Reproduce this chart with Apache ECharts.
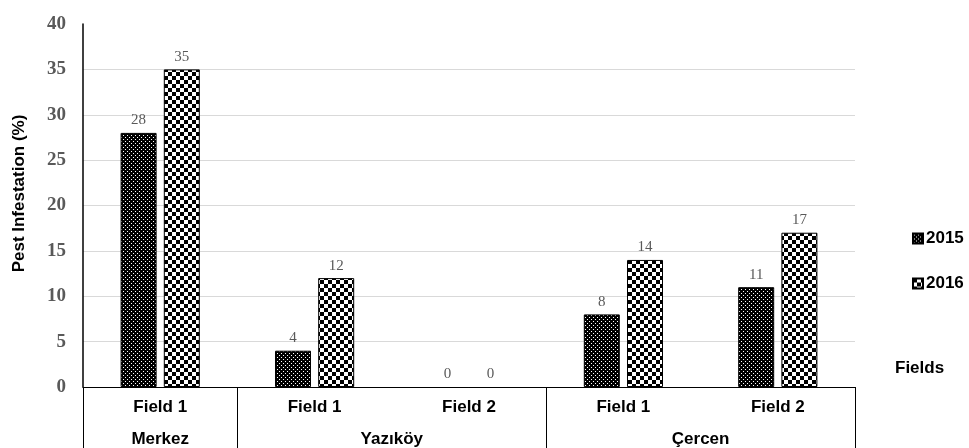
<!DOCTYPE html>
<html><head><meta charset="utf-8">
<script src="https://cdn.jsdelivr.net/npm/echarts@6/dist/echarts.min.js"></script>
<style>html,body{margin:0;padding:0;background:#fff}#c{width:969px;height:448px}</style>
</head><body><div id="c"></div>
<script>
var fields = ['Field 1', 'Field 1', 'Field 2', 'Field 1', 'Field 2'];
var locations = ['Merkez', 'Yazıköy', 'Çercen'];
var locationCenters = [0.5, 2, 4];
var locationBounds = [0, 1, 3, 5];
var values2015 = [28, 4, 0, 8, 11];
var values2016 = [35, 12, 0, 14, 17];
var yTicks = [0, 5, 10, 15, 20, 25, 30, 35, 40];

function dotPattern() {
  var c = document.createElement('canvas'); c.width = 4; c.height = 4;
  var g = c.getContext('2d');
  g.fillStyle = '#000'; g.fillRect(0, 0, 4, 4);
  g.fillStyle = '#fff'; g.fillRect(1, 1, 1, 1); g.fillRect(3, 3, 1, 1);
  return c;
}
function checkPattern() {
  var c = document.createElement('canvas'); c.width = 8; c.height = 8;
  var g = c.getContext('2d');
  g.fillStyle = '#fff'; g.fillRect(0, 0, 8, 8);
  g.fillStyle = '#000'; g.fillRect(0, 0, 4, 4); g.fillRect(4, 4, 4, 4);
  return c;
}
var p1 = {image: dotPattern(), repeat: 'repeat'};
var p2 = {image: checkPattern(), repeat: 'repeat'};

function items(arr) {
  return arr.map(function (v) {
    return v === 0 ? {value: v, itemStyle: {borderWidth: 0}} : v;
  });
}

var chart = echarts.init(document.getElementById('c'), null, {renderer: 'canvas'});
var labelStyle = {show: true, position: 'top', distance: 5, color: '#595959', fontFamily: 'Liberation Serif', fontSize: 15};
var gridColors = yTicks.map(function (v, i) { return i === yTicks.length - 1 ? 'rgba(0,0,0,0)' : '#d9d9d9'; });
var sans = {fontFamily: 'Liberation Sans', fontWeight: 'bold', fontSize: 17, color: '#000', lineHeight: 17};
chart.setOption({
  animation: false,
  grid: {left: 83, right: 114, top: 24, bottom: 61, containLabel: false},
  legend: {
    orient: 'vertical', left: 912, top: 230, itemGap: 28, itemWidth: 10, itemHeight: 10,
    icon: 'rect', padding: 0,
    textStyle: Object.assign({}, sans, {padding: [0, 0, 0, -2]}),
    data: ['2015', '2016']
  },
  xAxis: [{
    type: 'category', data: fields, position: 'bottom',
    axisLine: {show: true, lineStyle: {color: '#000', width: 1}},
    axisTick: {show: false},
    axisLabel: Object.assign({margin: 12}, sans),
    name: 'Fields', nameLocation: 'end', nameGap: 40,
    nameTextStyle: Object.assign({}, sans, {verticalAlign: 'bottom', padding: [0, 0, 10, 0]})
  }, {
    type: 'value', min: 0, max: 5, position: 'bottom',
    axisLine: {show: false},
    splitLine: {show: false},
    axisTick: {show: true, length: 61, customValues: locationBounds, lineStyle: {color: '#000', width: 1}},
    axisLabel: Object.assign({
      margin: 44, customValues: locationCenters,
      formatter: function (v) { var i = locationCenters.indexOf(v); return i >= 0 ? locations[i] : ''; }
    }, sans)
  }],
  yAxis: {
    type: 'value', min: 0, max: 40, interval: 5,
    name: 'Pest Infestation (%)', nameLocation: 'middle', nameGap: 55, nameRotate: 90,
    nameTextStyle: Object.assign({}, sans, {fontSize: 17, padding: [0, 0, 0, 24]}),
    axisLine: {show: true, lineStyle: {color: '#000', width: 1.5}},
    axisTick: {show: false},
    axisLabel: {margin: 17, fontFamily: 'Liberation Serif', fontWeight: 'bold', fontSize: 19, color: '#595959'},
    splitLine: {show: true, lineStyle: {color: gridColors, width: 1}}
  },
  series: [{
    name: '2015', type: 'bar', data: items(values2015), barWidth: 36, barGap: '20%',
    itemStyle: {color: p1, borderColor: '#000', borderWidth: 1},
    label: labelStyle
  }, {
    name: '2016', type: 'bar', data: items(values2016), barWidth: 36,
    itemStyle: {color: p2, borderColor: '#000', borderWidth: 1},
    label: labelStyle
  }]
});
</script></body></html>
